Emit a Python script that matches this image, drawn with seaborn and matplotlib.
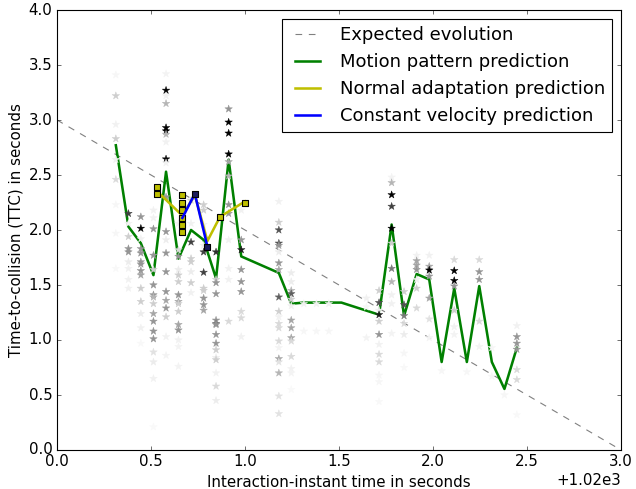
import numpy as np
import pandas as pd
import matplotlib as mpl
mpl.use('Agg')
import matplotlib.pyplot as plt
from matplotlib.ticker import ScalarFormatter
import seaborn as sns

plt.style.use('classic')
mpl.rcParams['font.size'] = 13.5
mpl.rcParams['axes.labelsize'] = 13.5
mpl.rcParams['xtick.labelsize'] = 13.5
mpl.rcParams['ytick.labelsize'] = 13.5
mpl.rcParams['legend.fontsize'] = 16.2

t0 = 1020.0

# motion pattern prediction (green)
motion_t = [0.313, 0.380, 0.446, 0.513, 0.580, 0.646, 0.713, 0.780, 0.846, 0.913, 0.980,
            1.180, 1.246, 1.313, 1.513, 1.713, 1.780, 1.846, 1.913, 1.980, 2.046, 2.113,
            2.180, 2.246, 2.313, 2.380, 2.446]
motion_ttc = [2.77, 2.03, 1.88, 1.59, 2.53, 1.74, 2.00, 1.91, 1.56, 2.64, 1.76,
              1.61, 1.33, 1.34, 1.34, 1.23, 2.05, 1.22, 1.60, 1.55, 0.80, 1.47,
              0.80, 1.49, 0.80, 0.555, 0.93]

# normal adaptation prediction (yellow)
normal_t = [0.534, 0.667, 0.733, 0.800, 0.867, 1.000]
normal_ttc = [2.35, 2.13, 2.32, 1.90, 2.12, 2.26]
square_t = [0.534, 0.534, 0.667, 0.667, 0.667, 0.667, 0.667, 0.667, 0.867, 1.000]
square_ttc = [2.39, 2.33, 2.32, 2.25, 2.18, 2.105, 2.045, 1.985, 2.12, 2.25]

# constant velocity prediction (blue)
const_t = [0.667, 0.733, 0.800]
const_ttc = [2.11, 2.33, 1.85]

# expected evolution
expected_t = [0.0, 3.0]
expected_ttc = [3.0, 0.0]

# individual samples (stars): time, ttc, shade (0 = white, 1 = black)
star_t = ([0.313] * 9 + [0.380] * 9 + [0.446] * 14 + [0.513] * 17 + [0.580] * 21 +
          [0.646] * 15 + [0.713] * 8 + [0.780] * 11 + [0.846] * 15 + [0.913] * 12 +
          [0.980] * 9 + [1.180] * 20 + [1.246] * 14 + [1.313] * 2 + [1.380] * 2 +
          [1.446] * 2 + [1.646] * 3 + [1.713] * 12 + [1.780] * 11 + [1.846] * 7 +
          [1.913] * 7 + [1.980] * 7 + [2.046] * 1 + [2.113] * 7 + [2.180] * 1 +
          [2.246] * 5 + [2.313] * 2 + [2.380] * 1 + [2.446] * 7)
star_ttc = [
    3.41, 3.22, 2.96, 2.83, 2.64, 2.46, 2.23, 1.97, 1.65,
    2.15, 2.06, 1.94, 1.83, 1.80, 1.71, 1.65, 1.55, 1.47,
    2.12, 2.015, 1.92, 1.83, 1.79, 1.71, 1.69, 1.63, 1.59, 1.47, 1.35, 1.24, 1.11, 0.97,
    2.18, 2.11, 2.01, 1.77, 1.64, 1.50, 1.41, 1.39, 1.33, 1.24, 1.17, 1.08, 1.01, 0.89, 0.80, 0.65, 0.21,
    3.42, 3.27, 3.22, 3.15, 2.93, 2.90, 2.87, 2.80, 2.645, 2.61, 2.30, 1.985, 1.91, 1.79, 1.62,
    1.44, 1.36, 1.29, 1.21, 1.03, 0.86,
    2.06, 1.82, 1.76, 1.64, 1.59, 1.53, 1.41, 1.35, 1.33, 1.26, 1.14, 1.09, 1.00, 0.94, 0.76,
    2.27, 2.06, 1.89, 1.74, 1.71, 1.62, 1.52, 1.43,
    2.23, 2.18, 2.05, 1.86, 1.80, 1.615, 1.47, 1.45, 1.38, 1.32, 1.27,
    1.80, 1.55, 1.52, 1.42, 1.18, 1.15, 1.14, 1.05, 0.97, 0.91, 0.84, 0.82, 0.70, 0.58, 0.45,
    3.10, 2.98, 2.88, 2.69, 2.62, 2.49, 2.23, 2.15, 1.91, 1.65, 1.55, 1.17,
    2.18, 1.91, 1.82, 1.64, 1.53, 1.44, 1.26, 1.20, 1.03,
    2.26, 2.07, 2.00, 1.88, 1.86, 1.80, 1.70, 1.64, 1.39, 1.26, 1.21, 1.15, 1.11, 0.99, 0.93,
    0.83, 0.80, 0.70, 0.49, 0.33,
    1.61, 1.53, 1.45, 1.42, 1.37, 1.31, 1.18, 1.11, 1.02, 0.99, 0.85, 0.74, 0.70, 0.55,
    1.33, 1.08,
    1.33, 1.08,
    1.33, 1.08,
    1.38, 1.30, 1.02,
    1.45, 1.34, 1.27, 1.23, 1.17, 1.05, 0.96, 0.87, 0.80, 0.68, 0.62, 0.44,
    2.48, 2.43, 2.32, 2.215, 2.015, 1.88, 1.65, 1.53, 1.41, 1.33, 1.06,
    1.44, 1.32, 1.22, 1.15, 1.05, 0.88, 0.75,
    1.77, 1.72, 1.68, 1.64, 1.55, 1.47, 1.29,
    1.77, 1.67, 1.635, 1.58, 1.38, 1.19, 1.02,
    0.72,
    1.73, 1.63, 1.54, 1.49, 1.27, 1.12, 1.05,
    0.71,
    1.73, 1.62, 1.55, 1.17, 0.94,
    0.93, 0.67,
    0.50,
    1.13, 1.03, 0.97, 0.915, 0.73, 0.64, 0.32,
]
star_shade = [
    0.08, 0.3, 0.12, 0.3, 0.12, 0.25, 0.08, 0.08, 0.06,
    0.8, 0.12, 0.3, 0.5, 0.5, 0.15, 0.12, 0.12, 0.12,
    0.5, 1.0, 0.12, 0.5, 0.5, 0.5, 0.5, 0.5, 0.45, 0.3, 0.3, 0.15, 0.12, 0.06,
    0.12, 0.12, 0.5, 0.5, 0.3, 0.5, 0.5, 0.4, 0.3, 0.45, 0.5, 0.5, 0.5, 0.2, 0.15, 0.12, 0.05,
    0.1, 1.0, 0.12, 0.4, 1.0, 1.0, 0.4, 0.12, 1.0, 0.12, 0.5, 0.5, 0.15, 0.5, 0.5,
    0.5, 0.45, 0.5, 0.3, 0.12, 0.1,
    0.12, 0.25, 0.5, 0.15, 0.3, 0.3, 0.5, 0.45, 0.3, 0.3, 0.45, 0.5, 0.12, 0.1, 0.1,
    0.3, 0.12, 0.8, 0.3, 0.3, 0.15, 0.3, 0.12,
    0.3, 0.3, 0.12, 0.15, 0.8, 0.8, 0.3, 0.3, 0.5, 0.5, 0.45,
    0.85, 0.3, 0.5, 0.5, 0.5, 0.6, 0.5, 0.5, 0.5, 0.3, 0.15, 0.3, 0.12, 0.25, 0.15,
    0.5, 1.0, 1.0, 1.0, 0.45, 0.4, 0.5, 0.5, 0.12, 0.12, 0.12, 0.25,
    0.12, 0.5, 0.9, 0.5, 0.5, 0.5, 0.25, 0.25, 0.12,
    0.12, 0.3, 0.75, 0.75, 0.5, 0.15, 0.5, 0.45, 0.7, 0.3, 0.12, 0.25, 0.25, 0.25, 0.1,
    0.45, 0.2, 0.4, 0.2, 0.2,
    0.15, 0.15, 0.4, 0.7, 0.3, 0.12, 0.45, 0.45, 0.45, 0.25, 0.25, 0.12, 0.1, 0.05,
    0.12, 0.08,
    0.12, 0.08,
    0.12, 0.08,
    0.12, 0.08, 0.1,
    0.3, 0.75, 0.12, 0.9, 0.3, 0.5, 0.12, 0.25, 0.25, 0.08, 0.08, 0.06,
    0.1, 0.4, 1.0, 0.8, 1.0, 0.3, 0.6, 0.4, 0.12, 0.12, 0.1,
    0.3, 0.75, 0.6, 0.25, 0.15, 0.08, 0.06,
    0.12, 0.45, 0.45, 0.5, 0.12, 0.3, 0.25,
    0.12, 0.45, 1.0, 0.5, 0.45, 0.2, 0.1,
    0.08,
    0.25, 1.0, 1.0, 0.5, 0.3, 0.12, 0.1,
    0.08,
    0.25, 0.5, 0.5, 0.25, 0.1,
    0.08, 0.08,
    0.08,
    0.12, 0.5, 0.5, 0.5, 0.25, 0.25, 0.06,
]

stars = pd.DataFrame({'t': np.array(star_t) + t0, 'ttc': star_ttc, 'shade': star_shade})

fig = plt.figure(figsize=(636 / 80, 489 / 80), dpi=80, facecolor='white')
ax = fig.add_axes([57 / 636, 1 - 450 / 489, 564 / 636, 440 / 489])
ax.set_facecolor('white')

sns.lineplot(x=np.array(expected_t) + t0, y=expected_ttc, ax=ax, color='0.5', lw=1,
             dashes=False, linestyle='--', label='Expected evolution', zorder=1)
sns.lineplot(x=np.array(motion_t) + t0, y=motion_ttc, ax=ax, color='g', lw=2.3,
             sort=False, estimator=None, label='Motion pattern prediction', zorder=2)
sns.scatterplot(data=stars, x='t', y='ttc', hue='shade', palette='Greys', hue_norm=(0, 1),
                marker='*', s=50, linewidth=0.4, edgecolor='face', legend=False, ax=ax, zorder=3)
sns.lineplot(x=np.array(normal_t) + t0, y=normal_ttc, ax=ax, color='y', lw=2.3,
             sort=False, estimator=None, label='Normal adaptation prediction', zorder=4)
sns.scatterplot(x=np.array(square_t) + t0, y=square_ttc, ax=ax, marker='s', s=26,
                color='y', edgecolor='black', linewidth=1, legend=False, zorder=5)
sns.lineplot(x=np.array(const_t) + t0, y=const_ttc, ax=ax, color='b', lw=2.3,
             sort=False, estimator=None, label='Constant velocity prediction', zorder=6)
sns.scatterplot(x=np.array(const_t[1:]) + t0, y=const_ttc[1:], ax=ax, marker='s', s=26,
                color='#1a1a5a', edgecolor='black', linewidth=1, legend=False, zorder=7)

ax.set_xlim(t0, t0 + 3.0)
ax.set_ylim(0, 4.0)
ax.xaxis.set_major_formatter(ScalarFormatter(useOffset=t0))
ax.set_xticks(np.arange(0, 3.01, 0.5) + t0)
ax.set_yticks(np.arange(0, 4.01, 0.5))
ax.set_yticklabels(['%.1f' % v for v in np.arange(0, 4.01, 0.5)])
ax.set_xlabel('Interaction-instant time in seconds')
ax.set_ylabel('Time-to-collision (TTC) in seconds')
ax.legend(loc='upper right')

fig.savefig('out.png', dpi=80, facecolor='white')
